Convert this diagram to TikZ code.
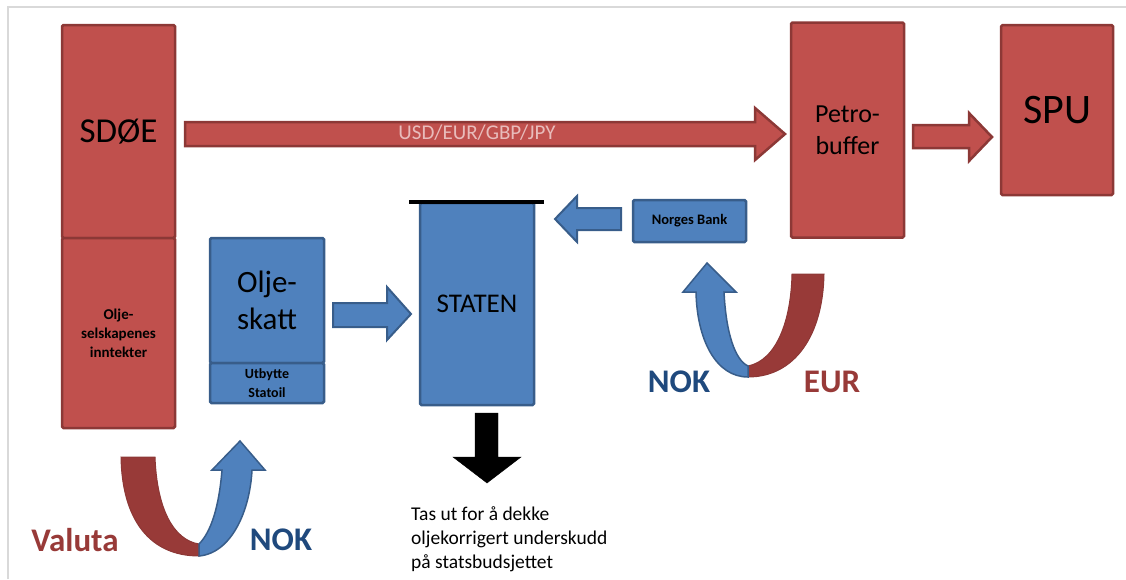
\documentclass[tikz,border=0pt]{standalone}
\usepackage{fontspec}
\setmainfont{Carlito}

\definecolor{redfill}{RGB}{192,80,77}
\definecolor{redline}{RGB}{140,56,54}
\definecolor{reddark}{RGB}{152,58,56}
\definecolor{bluefill}{RGB}{79,129,189}
\definecolor{blueline}{RGB}{56,93,138}
\definecolor{bluetext}{RGB}{31,73,125}
\definecolor{pinktext}{RGB}{232,188,187}
\definecolor{framegray}{RGB}{217,217,217}

\tikzset{
  redbox/.style={draw=redline, fill=redfill, line width=2.5pt, rounded corners=1.5pt, inner sep=0pt, align=center},
  bluebox/.style={draw=blueline, fill=bluefill, line width=2.5pt, rounded corners=1.5pt, inner sep=0pt, align=center},
  redarrow/.style={draw=redline, fill=redfill, line width=2.5pt, line join=miter},
  bluearrow/.style={draw=blueline, fill=bluefill, line width=2pt, line join=miter},
  redband/.style={draw=redline, fill=reddark, line width=1pt},
  blueband/.style={draw=blueline, fill=bluefill, line width=1.5pt, line join=miter},
  bigtag/.style={font=\bfseries\fontsize{33}{36}\selectfont, inner sep=0pt}
}

\begin{document}
\begin{tikzpicture}[x=1pt,y=1pt,yscale=-1,xscale=1]
\useasboundingbox (0,0) rectangle (1126,579);

%Straight Lines: frame
\draw [framegray, line width=2pt] (8,579) -- (8,7) -- (1126,7) ;

%Shape: Rectangle (SDOE, two parts)
\node [redbox, minimum width=113, minimum height=213, font=\fontsize{35}{40}\selectfont] (sdoe) at (118.5,131.5) {SDØE};
\node [redbox, minimum width=113, minimum height=190, font=\bfseries\fontsize{15}{19}\selectfont] (inntekter) at (118.5,333) {Olje-\\selskapenes\\inntekter};

%Shape: Rectangle (Oljeskatt, two parts)
\node [bluebox, minimum width=114, minimum height=125, font=\fontsize{31}{37}\selectfont] (oljeskatt) at (267,300.5) {Olje-\\skatt};
\node [bluebox, minimum width=114, minimum height=40, font=\bfseries\fontsize{14}{19}\selectfont] (utbytte) at (267,383) {Utbytte\\Statoil};

%Shape: Rectangle (STATEN) with lid
\node [bluebox, minimum width=114, minimum height=202, font=\fontsize{27}{30}\selectfont] (staten) at (477,304) {STATEN};
\coordinate (lidL) at (409,202);
\coordinate (lidR) at (544,202);
\draw [line width=4pt] (lidL) -- (lidR) ;

%Shape: Rectangle (Norges Bank)
\node [bluebox, minimum width=113, minimum height=42, font=\bfseries\fontsize{14.5}{17}\selectfont] (norges) at (689.5,221) {Norges Bank};

%Shape: Rectangle (Petro-buffer, SPU)
\node [redbox, minimum width=113, minimum height=215, font=\fontsize{26}{32}\selectfont] (petro) at (847.5,130) {Petro-\\buffer};
\node [redbox, minimum width=112, minimum height=170, font=\fontsize{42}{46}\selectfont] (spu) at (1057,110) {SPU};

%Shape: Right Arrow (SDOE to Petro-buffer)
\draw [redarrow] (185,122) -- (755,122) -- (755,108) -- (785,134) -- (755,160) -- (755,146) -- (185,146) -- cycle ;
\node [text=pinktext, font=\fontsize{21}{24}\selectfont, inner sep=0pt] (valutatxt) at (477,133) {USD/EUR/GBP/JPY};

%Shape: Right Arrow (Petro-buffer to SPU)
\draw [redarrow] (913,125) -- (969,125) -- (969,113) -- (992,137) -- (969,161) -- (969,148) -- (913,148) -- cycle ;

%Shape: Right Arrow (Oljeskatt to STATEN)
\draw [bluearrow] (333,303) -- (387,303) -- (387,287) -- (411,314) -- (387,340) -- (387,327) -- (333,327) -- cycle ;

%Shape: Left Arrow (Norges Bank to STATEN)
\draw [bluearrow] (621,208) -- (577,208) -- (577,196) -- (555,219) -- (577,242) -- (577,230) -- (621,230) -- cycle ;

%Shape: Down Arrow (out of STATEN)
\draw [fill=black] (475,413) -- (498,413) -- (498,457) -- (521,457) -- (487,483) -- (453,457) -- (475,457) -- cycle ;

% Text Node
\node [anchor=west, align=left, font=\fontsize{19.5}{24}\selectfont, inner sep=0pt] (uttak) at (411,539) {Tas ut for å dekke\\oljekorrigert underskudd\\på statsbudsjettet};

%Shape: Curved band (Valuta)
\draw [redband] (121,457) -- (155,457) .. controls (157,510) and (174,540) .. (199,544) -- (199,556) .. controls (150,556) and (122,520) .. (121,457) -- cycle ;
%Shape: Curved Arrow (NOK up to Oljeskatt)
\draw [blueband] (199,556) .. controls (232,553) and (250,510) .. (252,470) -- (265,470) -- (240,441) -- (212,470) -- (222,470) .. controls (219,507) and (211,532) .. (199,544) -- cycle ;

%Shape: Curved band (EUR)
\draw [redband] (792,274) -- (824,274) .. controls (823,335) and (795,377) .. (748,377) -- (748,366) .. controls (777,360) and (791,320) .. (792,274) -- cycle ;
%Shape: Curved Arrow (NOK up to Norges Bank)
\draw [blueband] (748,377) .. controls (716,377) and (697,340) .. (696,292) -- (683,292) -- (707,263) -- (736,292) -- (724,292) .. controls (726,333) and (735,360) .. (748,366) -- cycle ;

% Text Node
\node [bigtag, text=reddark] (valuta) at (75,540) {Valuta};
\node [bigtag, text=bluetext] (nokL) at (281,540) {NOK};
\node [bigtag, text=bluetext] (nokR) at (679,382) {NOK};
\node [bigtag, text=reddark] (eur) at (832,382) {EUR};

\end{tikzpicture}
\end{document}
